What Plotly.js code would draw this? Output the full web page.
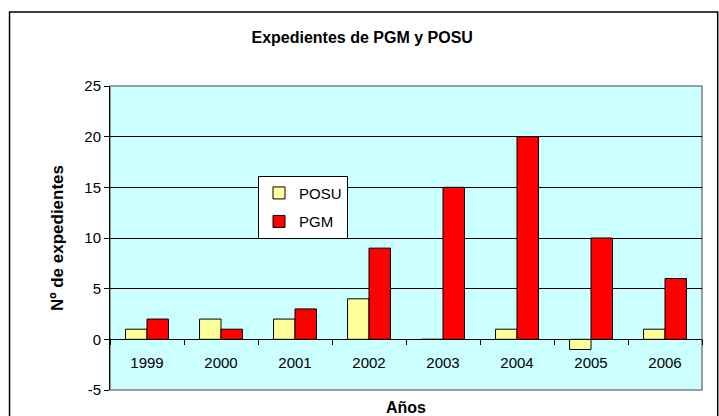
<!DOCTYPE html>
<html><head><meta charset="utf-8">
<script src="https://cdn.plot.ly/plotly-3.0.1.min.js"></script>
<style>html,body{margin:0;padding:0;background:#fff}#c{width:719px;height:416px}</style>
</head><body><div id="c"></div>
<script>
const years = ['1999','2000','2001','2002','2003','2004','2005','2006'];
const posu = [1, 2, 2, 4, 0, 1, -1, 1];
const pgm = [2, 1, 3, 9, 15, 20, 10, 6];
const yTicks = [-5, 0, 5, 10, 15, 20, 25];
const yTickText = ['-5', '0', '5', '10', '15', '20', '25'];

const F = 'Liberation Sans, Arial, sans-serif';
const traces = [
  {type:'bar', name:'POSU', x:years, y:posu, legendgroup:'a',
   marker:{color:'#FFFF99', line:{color:'#000', width:1}}},
  {type:'bar', name:'PGM', x:years, y:pgm, legendgroup:'b',
   marker:{color:'#FF0000', line:{color:'#000', width:1}}}
];
const layout = {
  width:719, height:416,
  margin:{l:110, r:17, t:86, b:26},
  paper_bgcolor:'#fff', plot_bgcolor:'#CCFFFF',
  font:{family:F, size:15, color:'#000'},
  barmode:'group', bargap:0.42, bargroupgap:0,
  showlegend:true,
  legend:{x:0.25, y:0.705, xanchor:'left', yanchor:'top', bgcolor:'#fff',
    bordercolor:'#000', borderwidth:1, font:{family:F, size:15},
    traceorder:'grouped', tracegroupgap:6, itemwidth:30},
  title:{text:'<b>Expedientes de PGM y POSU</b>', font:{family:F, size:16},
    x:0.426, xref:'paper', xanchor:'center', yref:'container', y:0.911, yanchor:'middle'},
  xaxis:{type:'category', anchor:'free', position:1/6, showline:false,
    ticks:'outside', tickson:'boundaries', ticklen:5, tickcolor:'#000',
    ticklabelstandoff:13,
    showgrid:false, tickfont:{family:F, size:15}},
  yaxis:{range:[-5,25], tickvals:yTicks, ticktext:yTickText, showline:true, linecolor:'#000', linewidth:1,
    ticks:'outside', ticklen:5, tickcolor:'#000', showgrid:true, gridcolor:'#000', gridwidth:1,
    zeroline:true, zerolinecolor:'#000', zerolinewidth:1, tickfont:{family:F, size:15},
    title:{text:'<b>Nº de expedientes</b>', font:{family:F, size:17}, standoff:16}},
  annotations:[
    {text:'<b>Años</b>', xref:'paper', yref:'paper', x:0.5, y:-0.059, xanchor:'center', yanchor:'middle',
     showarrow:false, font:{family:F, size:16}}
  ],
  shapes:[
    {type:'rect', xref:'paper', yref:'paper', x0:0, x1:1, y0:0, y1:1,
     line:{color:'#808080', width:1.5}, layer:'below'},
    {type:'rect', xref:'paper', yref:'paper', x0:-0.1697, x1:1.0265, y0:-0.2, y1:1.2434,
     line:{color:'#000', width:1.5}, fillcolor:'rgba(0,0,0,0)'}
  ]
};
Plotly.newPlot('c', traces, layout, {displayModeBar:false, staticPlot:true});
</script></body></html>
